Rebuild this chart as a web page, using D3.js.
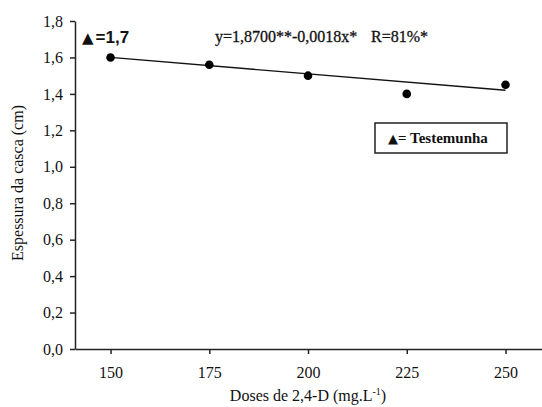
<!DOCTYPE html>
<html lang="en">
<head>
<meta charset="UTF-8">
<title>Espessura da casca</title>
<script src="https://cdnjs.cloudflare.com/ajax/libs/d3/7.8.5/d3.min.js"></script>
<style>
    body { margin: 0; padding: 0; background: #fff; }
    svg { display: block; }
    .tick text { font-family: "Liberation Serif", "DejaVu Serif", serif; font-size: 16px; fill: #111; }
    .domain, .tick line { stroke: #222; stroke-width: 1.5px; }
</style>
</head>
<body>
<div id="chart"></div>
<script>
    // dose levels (mg/L) and measured thickness (cm)
    const doses = [150, 175, 200, 225, 250];
    const espessura = [1.60, 1.56, 1.50, 1.40, 1.45];
    const xTicks = [150, 175, 200, 225, 250];
    const yTicks = [0, 0.2, 0.4, 0.6, 0.8, 1.0, 1.2, 1.4, 1.6, 1.8];
    // regression y = a + b*x
    const coefA = 1.87, coefB = -0.0018;

    const W = 542, H = 407;
    const svg = d3.select("#chart").append("svg")
        .attr("width", W).attr("height", H);

    const x = d3.scaleLinear().domain([141, 260]).range([75, 545]);
    const y = d3.scaleLinear().domain([0, 1.8]).range([349, 21]);
    const fmt = d => d3.format(".1f")(d).replace(".", ",");

    svg.append("g")
        .attr("transform", "translate(0,349)")
        .call(d3.axisBottom(x).tickValues(xTicks).tickSize(5).tickSizeOuter(0).tickPadding(11))
        .call(g => g.selectAll(".tick text").attr("dy", "0.8em"));

    svg.append("g")
        .attr("transform", "translate(75,0)")
        .call(d3.axisLeft(y).tickValues(yTicks).tickFormat(fmt).tickSize(5).tickSizeOuter(0).tickPadding(7));

    // fitted line
    const xr = d3.extent(doses);
    svg.append("line")
        .attr("x1", x(xr[0])).attr("y1", y(coefA + coefB * xr[0]))
        .attr("x2", x(xr[1])).attr("y2", y(coefA + coefB * xr[1]))
        .attr("stroke", "#111").attr("stroke-width", 1.3);

    svg.selectAll(".pt")
        .data(doses)
        .enter().append("circle")
        .attr("class", "pt")
        .attr("cx", d => x(d))
        .attr("cy", (d, i) => y(espessura[i]))
        .attr("r", 4.3)
        .attr("fill", "#000");

    // annotations
    const ctrl = svg.append("text")
        .attr("x", 82).attr("y", 43)
        .attr("font-family", "Liberation Sans, Arial, sans-serif")
        .attr("font-size", 17).attr("font-weight", "bold")
        .attr("fill", "#111");
    ctrl.append("tspan").attr("font-family", "DejaVu Sans").attr("font-size", 15).text("\u25B2");
    ctrl.append("tspan").attr("dx", 2).text("=1,7");

    const eqStyle = sel => sel
        .attr("y", 42)
        .attr("font-family", "Liberation Serif, serif")
        .attr("font-size", 16)
        .attr("fill", "#111")
        .attr("stroke", "#111").attr("stroke-width", 0.3);
    svg.append("text").attr("x", 215).call(eqStyle).text("y=1,8700**-0,0018x*");
    svg.append("text").attr("x", 371).call(eqStyle).text("R=81%*");

    // legend box
    svg.append("rect")
        .attr("x", 375).attr("y", 123)
        .attr("width", 132).attr("height", 30)
        .attr("fill", "#fff").attr("stroke", "#222").attr("stroke-width", 1.5);
    const leg = svg.append("text")
        .attr("x", 388).attr("y", 143)
        .attr("font-family", "Liberation Serif, serif")
        .attr("font-size", 15).attr("font-weight", "bold")
        .attr("fill", "#111");
    leg.append("tspan").attr("font-family", "DejaVu Sans").attr("font-size", 13).text("\u25B2");
    leg.append("tspan").text("= Testemunha");

    // axis titles
    svg.append("text")
        .attr("transform", "translate(23,183) rotate(-90)")
        .attr("text-anchor", "middle")
        .attr("font-family", "Liberation Serif, serif")
        .attr("font-size", 16)
        .attr("fill", "#111")
        .text("Espessura da casca (cm)");

    const xt = svg.append("text")
        .attr("x", 308).attr("y", 401)
        .attr("text-anchor", "middle")
        .attr("font-family", "Liberation Serif, serif")
        .attr("font-size", 16)
        .attr("fill", "#111");
    xt.append("tspan").text("Doses de 2,4-D (mg.L");
    xt.append("tspan").attr("dy", -6).attr("font-size", 10).text("-1");
    xt.append("tspan").attr("dy", 6).text(")");
</script>
</body>
</html>
